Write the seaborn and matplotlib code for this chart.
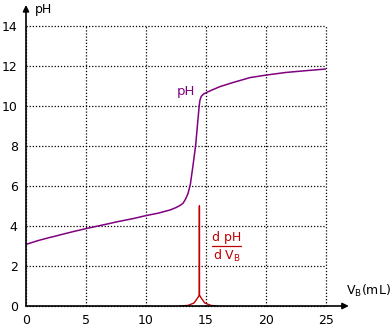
import numpy as np
import pandas as pd
import matplotlib
matplotlib.use("Agg")
import matplotlib.pyplot as plt
import seaborn as sns

# Titration curve: volume of base (mL) vs pH
vb_ph = [0.0, 1.0, 2.0, 2.5, 3.0, 4.0, 5.0, 6.0, 7.0, 7.5, 8.0, 9.0, 10.0, 11.0, 12.0,
         12.5, 12.9, 13.1, 13.3, 13.5, 13.7, 13.94, 14.14, 14.3, 14.44, 14.5, 14.6,
         14.8, 15.06, 15.5, 16.17, 17.28, 18.67, 20.06, 21.7, 23.4, 25.0]
ph = [3.08, 3.27, 3.43, 3.5, 3.58, 3.73, 3.87, 4.0, 4.13, 4.2, 4.26, 4.38, 4.52, 4.64, 4.8,
      4.92, 5.05, 5.15, 5.35, 5.62, 6.1, 7.13, 8.05, 9.13, 10.05, 10.3, 10.48,
      10.6, 10.68, 10.8, 10.97, 11.18, 11.42, 11.55, 11.68, 11.77, 11.85]

# Derivative dpH/dVB (scaled)
vb_d = [12.8, 13.5, 14.0, 14.3, 14.45, 14.45, 14.45, 14.6, 14.9, 15.4, 15.9]
dph = [0.0, 0.03, 0.15, 0.4, 0.55, 5.0, 0.55, 0.4, 0.15, 0.03, 0.0]

x_ticks = [0, 5, 10, 15, 20, 25]
y_ticks = [0, 2, 4, 6, 8, 10, 12, 14]

sns.set_style("white")
plt.rcParams['font.family'] = ['DejaVu Sans']
plt.rcParams['text.color'] = 'black'

fig = plt.figure(figsize=(3.92, 3.27), dpi=100)
ax = fig.add_axes([26/392, 21/327, 300/392, 280/327])

df1 = pd.DataFrame({"VB": vb_ph, "pH": ph})
df2 = pd.DataFrame({"VB": vb_d, "d": dph})
sns.lineplot(data=df1, x="VB", y="pH", sort=False, estimator=None, errorbar=None,
             color="#800080", lw=1.1, ax=ax, zorder=3)
sns.lineplot(data=df2, x="VB", y="d", sort=False, estimator=None, errorbar=None,
             color="#c00000", lw=1.0, ax=ax, zorder=3)

ax.set_xlim(0, 25)
ax.set_ylim(0, 14)
ax.set_xlabel("")
ax.set_ylabel("")
for s in ax.spines.values():
    s.set_visible(False)

ax.set_xticks(x_ticks)
ax.set_yticks(y_ticks)
ax.set_xticks(np.arange(0, 26, 1), minor=True)
ax.set_yticks(np.arange(0, 14.01, 0.5), minor=True)
ax.tick_params(axis="both", which="major", direction="out", length=4, width=1,
               labelsize=9, color="black", labelcolor="black", pad=2)
ax.tick_params(axis="both", which="minor", direction="in", length=3, width=1, color="black")
ax.grid(True, which="major", color="black", linestyle=(0, (1, 1.5)), linewidth=0.9)
for gl in ax.get_xgridlines() + ax.get_ygridlines():
    gl.set_clip_on(False)

# axes with arrows
ax.annotate("", xy=(26.9, 0), xytext=(0, 0), xycoords="data",
            arrowprops=dict(arrowstyle="-|>", color="black", lw=1.2, mutation_scale=9,
                            shrinkA=0, shrinkB=0), annotation_clip=False)
ax.annotate("", xy=(0, 15.05), xytext=(0, 0), xycoords="data",
            arrowprops=dict(arrowstyle="-|>", color="black", lw=1.2, mutation_scale=9,
                            shrinkA=0, shrinkB=0), annotation_clip=False)

ax.text(0.7, 14.8, "pH", fontsize=9, color="black", ha="left", va="center", clip_on=False)
ax.text(26.65, 0.75, r"V$_\mathregular{B}$(mL)", fontsize=9, color="black",
        ha="left", va="center", clip_on=False)
ax.text(13.3, 10.7, "pH", fontsize=9.5, color="#800080", ha="center", va="center")

red = "#c00000"
ax.text(16.72, 3.45, "d pH", fontsize=9, color=red, ha="center", va="center")
ax.plot([15.5, 17.95], [3.0, 3.0], color=red, lw=0.9)
ax.text(16.72, 2.5, r"d V$_\mathregular{B}$", fontsize=9, color=red, ha="center", va="center")

fig.savefig("out.png", dpi=100)
